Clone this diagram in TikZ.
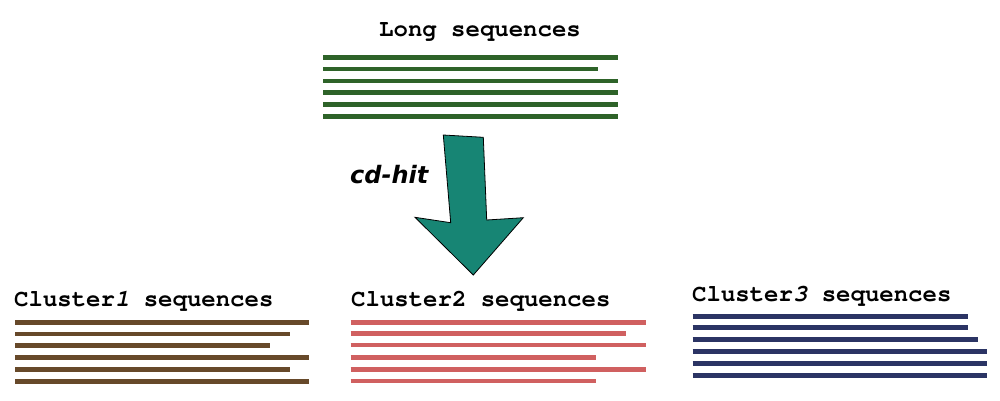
\documentclass[tikz,border=0pt]{standalone}
\usepackage{fontspec}
\newfontfamily\djv{DejaVu Sans}
\newcommand\courierbold{\usefont{T1}{pcr}{b}{n}}
\newcommand\courierit[1]{{\usefont{T1}{pcr}{b}{sl}#1}}
\definecolor{seqgreen}{HTML}{2E6329}
\definecolor{seqbrown}{HTML}{67492A}
\definecolor{seqred}{HTML}{D06060}
\definecolor{seqnavy}{HTML}{2B3464}
\definecolor{arrowteal}{HTML}{178574}
\begin{document}
\begin{tikzpicture}[x=1pt,y=-1pt,
  seq/.style={line width=4.6pt},
  ttl/.style={anchor=base west,inner sep=0pt,font=\fontsize{24}{28}\courierbold}]
\useasboundingbox (0,0) rectangle (1000,400);
% titles
\node[ttl] (tlong) at (379,36.7) {Long sequences};
\node[ttl] (tc1) at (14,306) {Cluster\courierit{1} sequences};
\node[ttl] (tc2) at (351,306) {Cluster2 sequences};
\node[ttl] (tc3) at (692,301.7) {Cluster\courierit{3} sequences};
% long sequences
\foreach \y/\e in {57.7/618,69/598,81/618,92.7/618,104.7/618,116.7/618}
  \draw[seq,seqgreen] (323,\y) -- (\e,\y);
% cluster 1
\foreach \y/\e in {322.3/309,334/290,345.7/270,357.7/309,369.3/290,381.3/309}
  \draw[seq,seqbrown] (15,\y) -- (\e,\y);
% cluster 2
\foreach \y/\e in {322.3/645.7,333.3/625.7,345/645.7,357.3/595.7,369.3/645.7,381/595.7}
  \draw[seq,seqred] (350.7,\y) -- (\e,\y);
% cluster 3
\foreach \y/\e in {316.7/968.3,327.7/968,339.3/977.7,351.7/987,363.7/987,375.7/987}
  \draw[seq,seqnavy] (692.7,\y) -- (\e,\y);
% arrow
\draw[fill=arrowteal,draw=black,line width=0.8pt,line join=miter]
  (443.3,135) -- (483.3,137.3) -- (486.7,220) -- (523.3,217.7) -- (473.3,275)
  -- (415,217.3) -- (450.7,222.7) -- cycle;
\node[anchor=base west,inner sep=0pt,font=\djv\bfseries\itshape\fontsize{24}{28}\selectfont] (cdhit) at (350,183) {cd-hit};
\end{tikzpicture}
\end{document}
